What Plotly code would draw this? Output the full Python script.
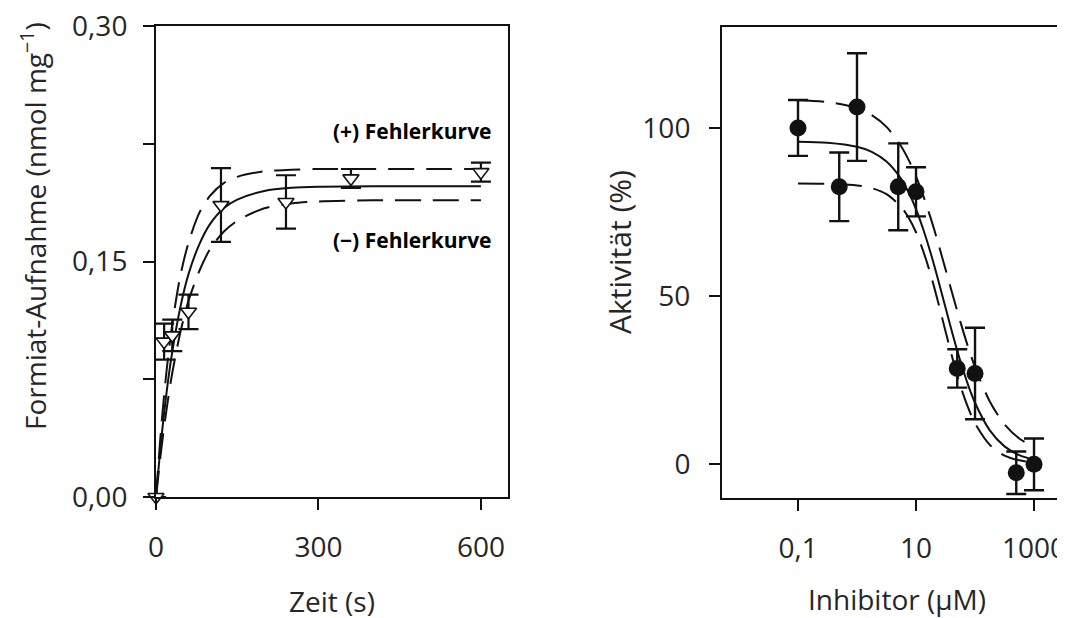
import plotly.graph_objects as go

# ---------------- data: left panel (uptake kinetics) ----------------
kin_time = [0, 15, 30, 60, 120, 240, 360, 600]
kin_uptake = [0.0, 0.099, 0.103, 0.118, 0.186, 0.188, 0.203, 0.207]
kin_err = [0.0, 0.0115, 0.010, 0.011, 0.0235, 0.017, 0.006, 0.006]

kin_curve_t = [0, 10, 20, 30, 45, 60, 80, 100, 125, 150, 200, 250, 300, 400, 500, 600]
kin_fit = [0, 0.0375, 0.068, 0.0925, 0.121, 0.142, 0.161, 0.174, 0.184, 0.1895, 0.195, 0.197, 0.1977, 0.198, 0.198, 0.198]
kin_upper = [0, 0.046, 0.082, 0.110, 0.141, 0.162, 0.181, 0.192, 0.200, 0.204, 0.2075, 0.2085, 0.209, 0.209, 0.209, 0.209]
kin_lower = [0, 0.031, 0.057, 0.079, 0.105, 0.125, 0.144, 0.158, 0.169, 0.176, 0.184, 0.187, 0.1883, 0.189, 0.189, 0.189]

# ---------------- data: right panel (inhibition) ----------------
inh_conc = [0.1, 0.5, 1, 5, 10, 50, 100, 500, 1000]
inh_act = [100, 82.5, 106.2, 82.5, 81, 28.5, 27, -2.5, 0]
inh_err = [8.3, 10.2, 16, 12.9, 7.3, 5.7, 13.6, 6.3, 7.7]

inh_curve_x = [0.1, 0.316, 1, 1.78, 3.16, 5.62, 7.5, 10, 13.3, 17.8, 23.7, 31.6, 42.2, 56.2, 75, 100, 178, 316, 562, 1000]
inh_fit = [95.9, 95.6, 94.4, 92.9, 90.0, 84.8, 80.8, 75.9, 69.8, 62.7, 54.9, 46.6, 38.4, 30.8, 24.0, 18.3, 10.1, 5.35, 2.75, 1.4]
inh_upper = [108.25, 107.7, 105.9, 103.8, 100.3, 94.5, 90.5, 85.6, 79.8, 73.1, 65.8, 58.0, 50.1, 42.5, 35.3, 28.9, 18.7, 11.9, 7.7, 5.2]
inh_lower = [83.5, 83.4, 82.9, 82.1, 80.3, 76.5, 73.3, 69.0, 63.3, 56.3, 48.2, 39.6, 31.1, 23.5, 17.2, 12.2, 5.8, 2.6, 1.2, 0.5]

# ---------------- tick labels ----------------
kin_xticks = [0, 300, 600]
kin_xticktext = ["0", "300", "600"]
kin_yticks = [0, 0.075, 0.15, 0.225, 0.30]
kin_yticktext = ["0,00", " ", "0,15", " ", "0,30"]
inh_xticks = [0.1, 10, 1000]
inh_xticktext = ["0,1", "10", "1000"]
inh_yticks = [0, 50, 100]
inh_yticktext = ["0", "50", "100"]

# page body has an 8px margin, so the figure is offset by 8px
OFF = 8
W, H = 1065 - OFF, 618 - OFF
INK = "#111111"
TXT = "#262626"
FONT = "Open Sans"
DASH = "26px,12px"


def px(X):
    return (X - OFF) / W


def py(Y):
    return 1 - (Y - OFF) / H


fig = go.Figure()

# left panel curves
line_kw = dict(color=INK, width=2, shape="spline", smoothing=0.8)
fig.add_trace(go.Scatter(x=kin_curve_t, y=kin_upper, mode="lines", line=dict(line_kw, dash=DASH), xaxis="x", yaxis="y"))
fig.add_trace(go.Scatter(x=kin_curve_t, y=kin_lower, mode="lines", line=dict(line_kw, dash=DASH), xaxis="x", yaxis="y"))
fig.add_trace(go.Scatter(x=kin_curve_t, y=kin_fit, mode="lines", line=line_kw, xaxis="x", yaxis="y"))
fig.add_trace(go.Scatter(
    x=kin_time, y=kin_uptake, mode="markers",
    marker=dict(symbol="triangle-down", size=14, color="white", line=dict(color=INK, width=1.6)),
    error_y=dict(type="data", array=kin_err, visible=True, color=INK, thickness=2.2, width=10),
    cliponaxis=False, xaxis="x", yaxis="y"))

# right panel curves
fig.add_trace(go.Scatter(x=inh_curve_x, y=inh_upper, mode="lines", line=dict(line_kw, dash=DASH), xaxis="x2", yaxis="y2"))
fig.add_trace(go.Scatter(x=inh_curve_x, y=inh_lower, mode="lines", line=dict(line_kw, dash=DASH), xaxis="x2", yaxis="y2"))
fig.add_trace(go.Scatter(x=inh_curve_x, y=inh_fit, mode="lines", line=line_kw, xaxis="x2", yaxis="y2"))
fig.add_trace(go.Scatter(
    x=inh_conc, y=inh_act, mode="markers",
    marker=dict(symbol="circle", size=17, color=INK, line=dict(color=INK, width=0)),
    error_y=dict(type="data", array=inh_err, visible=True, color=INK, thickness=2.4, width=10),
    cliponaxis=False, xaxis="x2", yaxis="y2"))

axis_common = dict(
    showgrid=False, zeroline=False, showline=True, linecolor=INK, linewidth=2,
    ticks="outside", ticklen=11, tickwidth=2, tickcolor=INK,
    tickfont=dict(family=FONT, size=28, color=TXT), automargin=False,
    ticklabeloverflow="allow",
)

fig.update_layout(
    width=W, height=H,
    margin=dict(l=0, r=0, t=0, b=0),
    paper_bgcolor="white", plot_bgcolor="white",
    showlegend=False,
    xaxis=dict(axis_common, domain=[px(156), px(508)], range=[0, 650], mirror=True,
               tickmode="array", tickvals=kin_xticks, ticktext=kin_xticktext, ticklabelstandoff=13),
    yaxis=dict(axis_common, domain=[py(497), py(26)], range=[0, 0.3001], mirror=True,
               tickmode="array", tickvals=kin_yticks, ticktext=kin_yticktext, ticklabelstandoff=10),
    xaxis2=dict(axis_common, type="log", domain=[px(722), 1.0], range=[-2.288, 3.525], mirror=True,
                tickmode="array", tickvals=inh_xticks, ticktext=inh_xticktext, ticklabelstandoff=13,
                anchor="y2"),
    yaxis2=dict(axis_common, domain=[py(498), py(27)], range=[-10, 130], mirror=False,
                tickmode="array", tickvals=inh_yticks, ticktext=inh_yticktext, ticklabelstandoff=13,
                anchor="x2"),
)


def ann(text, x, y, size=28, angle=0, color=TXT, xanchor="center"):
    fig.add_annotation(
        text=text, x=px(x), y=py(y), xref="paper", yref="paper",
        showarrow=False, textangle=angle, xanchor=xanchor, yanchor="middle",
        font=dict(family=FONT, size=size, color=color),
    )


ann("Zeit (s)", 332, 601)
ann("Inhibitor (µM)", 897, 599)
ann("Formiat-Aufnahme (nmol mg<sup>−1</sup>)", 33, 226, size=28, angle=-90)
ann("Aktivität (%)", 619, 252, size=30, angle=-90)
ann("<b>(+) Fehlerkurve</b>", 494, 131, size=21, color="black", xanchor="right")
ann("<b>(−) Fehlerkurve</b>", 494, 240, size=21, color="black", xanchor="right")

fig.write_html("out.html")
